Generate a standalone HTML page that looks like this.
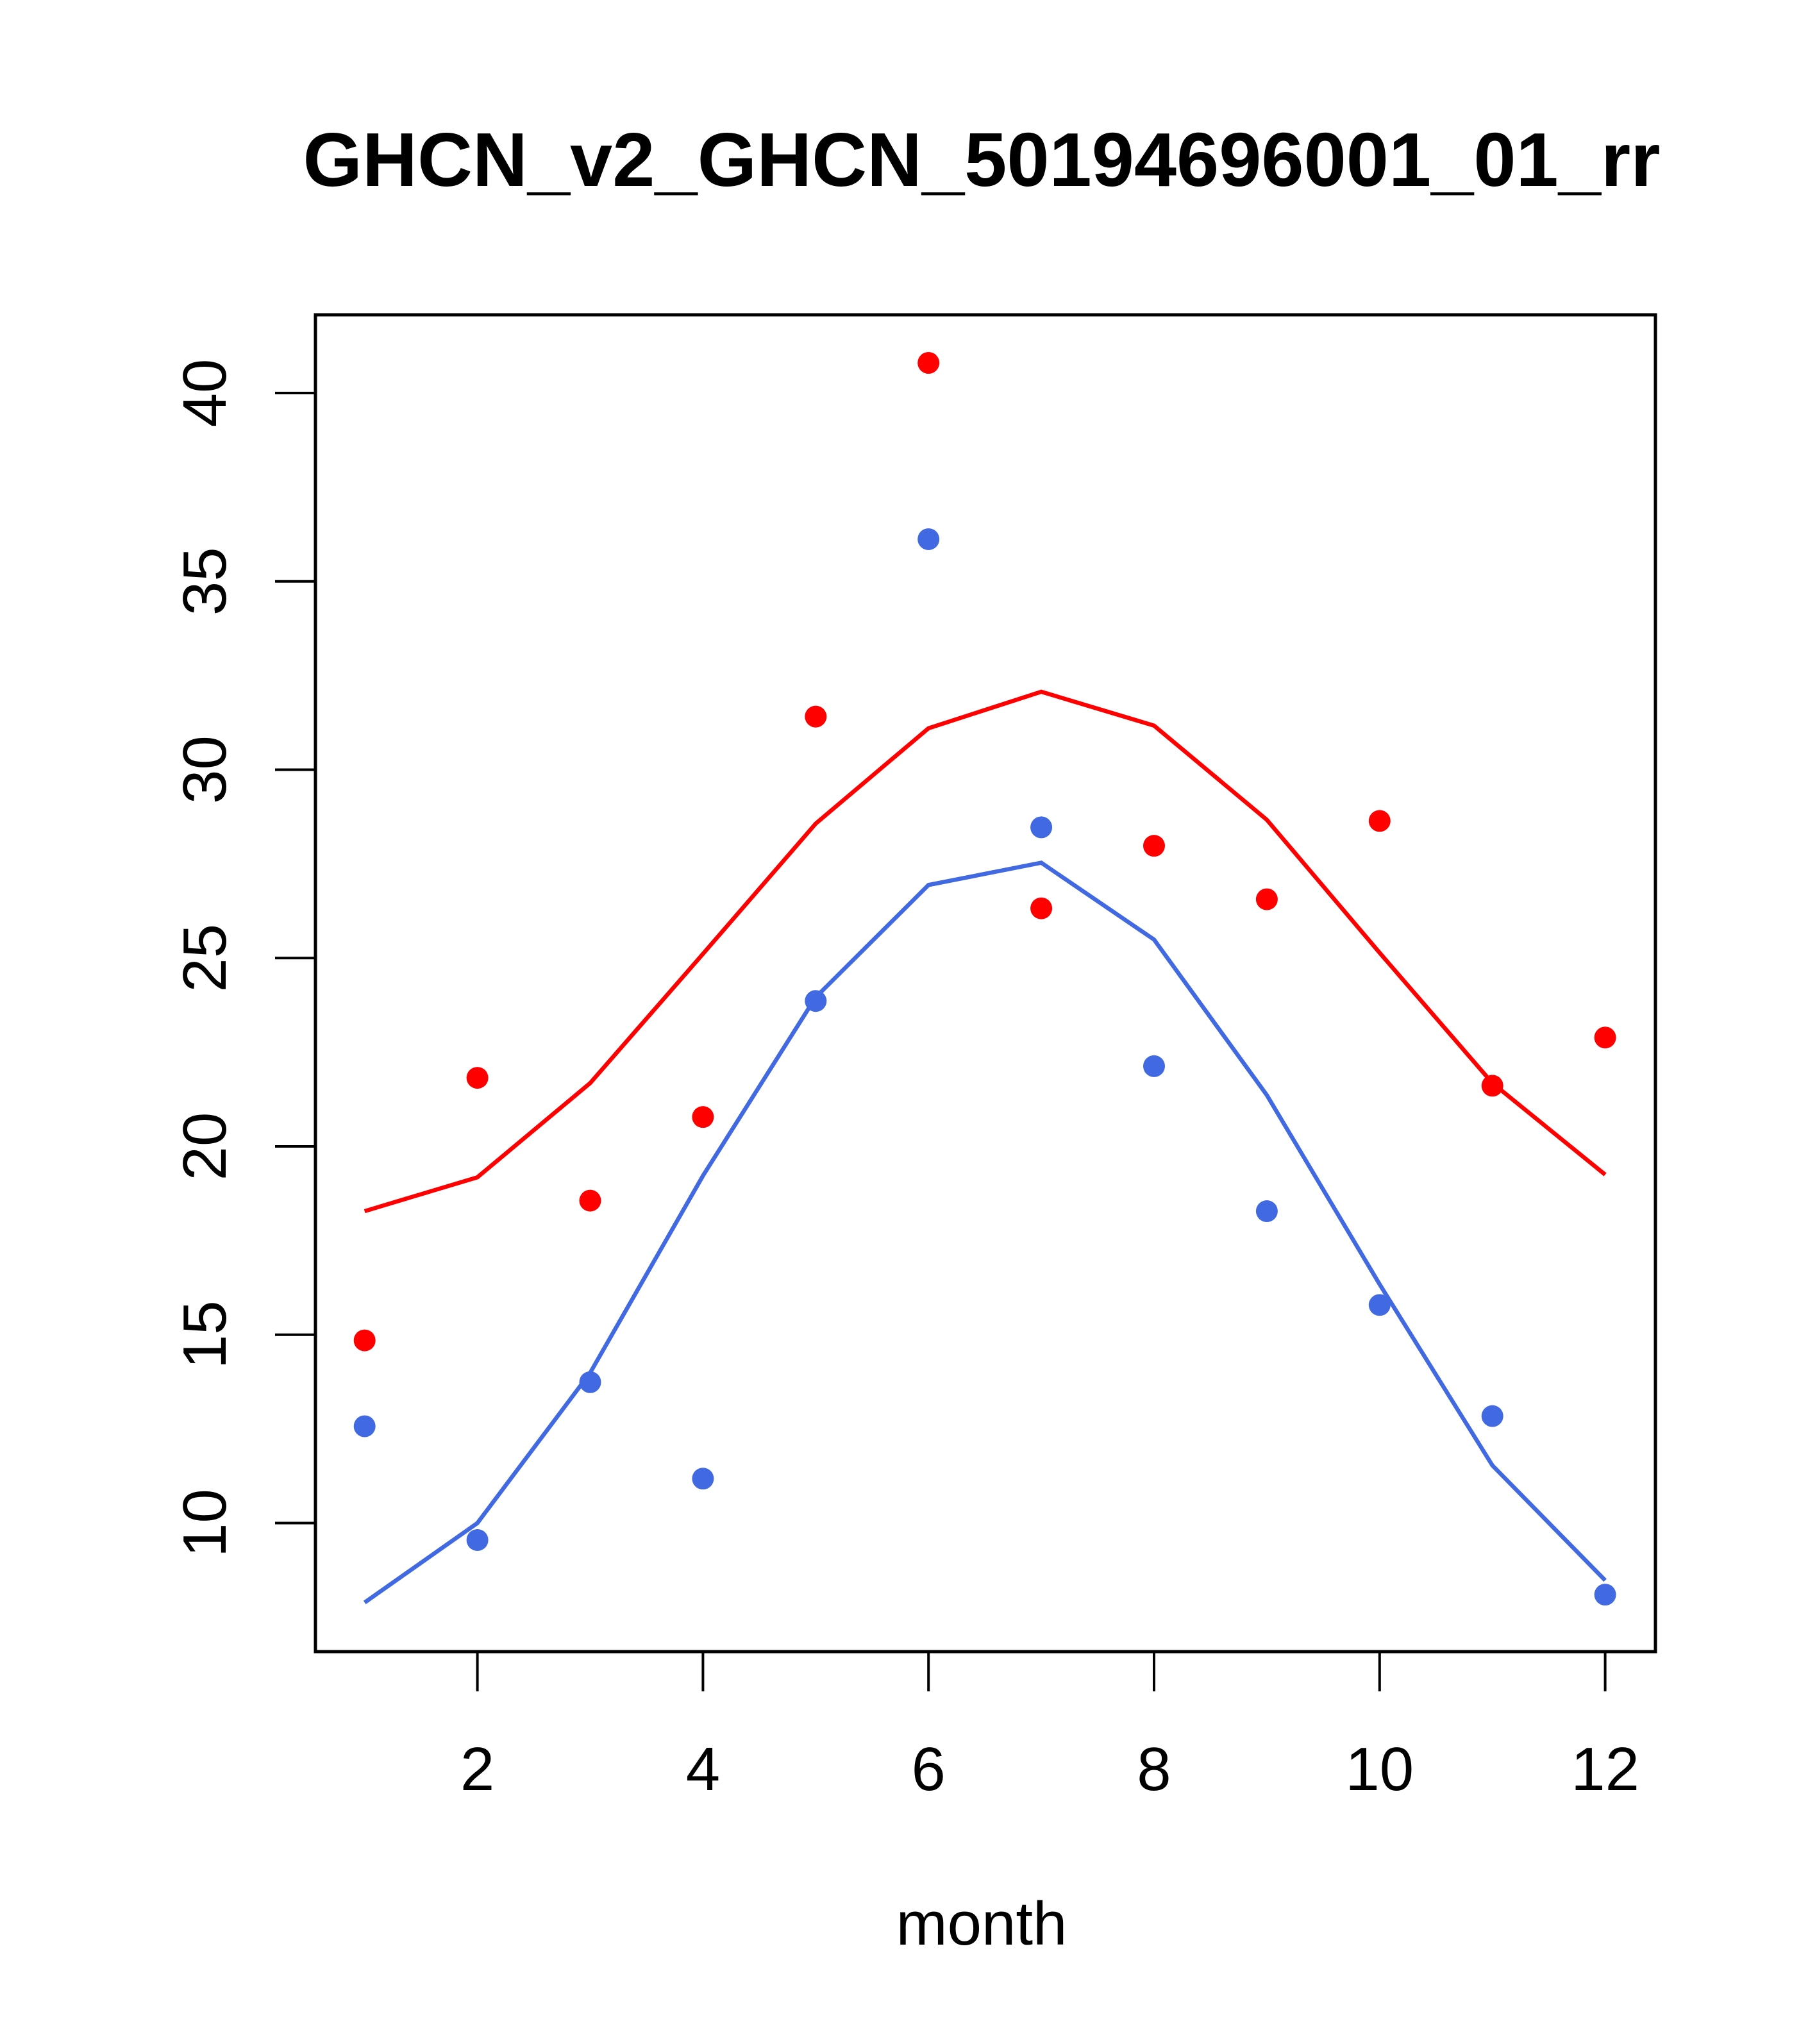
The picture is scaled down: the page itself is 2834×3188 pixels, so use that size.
<!DOCTYPE html>
<html><head><meta charset="utf-8"><style>
html,body{margin:0;padding:0;background:#fff;}
svg{display:block;}
text{font-family:"Liberation Sans",sans-serif;}
</style></head><body>
<svg id="chart" width="2834" height="3188" viewBox="0 0 2834 3188" xmlns="http://www.w3.org/2000/svg">
<rect width="2834" height="3188" fill="#fff"/>
<text x="1531" y="290" font-size="119" font-weight="bold" text-anchor="middle">GHCN_v2_GHCN_50194696001_01_rr</text>
<rect x="492" y="491" width="2090" height="2085" fill="none" stroke="#000" stroke-width="5"/>
<text x="1531" y="3033" font-size="96" text-anchor="middle">month</text>
<g id="axes"></g>
<g id="series"></g>
</svg>
<script>
const months = [1,2,3,4,5,6,7,8,9,10,11,12];
const redPoints = [14.85,21.82,18.56,20.78,31.41,40.80,26.32,27.98,26.56,28.64,21.61,22.89];
const redLine = [18.28,19.18,21.68,25.11,28.57,31.10,32.07,31.17,28.67,25.14,21.68,19.25];
const bluePoints = [12.57,9.55,13.74,11.18,23.86,36.12,28.47,22.13,18.28,15.79,12.84,8.10];
const blueLine = [7.89,10.0,13.99,19.22,23.96,26.94,27.53,25.49,21.36,16.34,11.53,8.48];
const xTicks = [2,4,6,8,10,12];
const yTicks = [10,15,20,25,30,35,40];

const NS = "http://www.w3.org/2000/svg";
function sx(m){ return 568.7 + 175.9*(m-1); }
function sy(v){ return 613 + (40-v)*58.75; }
function mk(tag, attrs, parent){
  const e = document.createElementNS(NS, tag);
  for (const k in attrs) e.setAttribute(k, attrs[k]);
  parent.appendChild(e); return e;
}
const axes = document.getElementById('axes');
const series = document.getElementById('series');

xTicks.forEach(t => {
  const l = mk('line', {x1:sx(t), x2:sx(t), y1:2576, y2:2638, stroke:'#000','stroke-width':4}, axes);
  
  
  const tx = mk('text', {x:sx(t), y:2792, 'font-size':96, 'text-anchor':'middle'}, axes);
  tx.textContent = t;
  
  
});
yTicks.forEach(t => {
  const y = sy(t);
  const l = mk('line', {x1:429, x2:492, y1:y, y2:y, stroke:'#000','stroke-width':4}, axes);
  
  
  const tx = mk('text', {x:352, y:y, 'font-size':96, 'text-anchor':'middle', transform:'rotate(-90 352 '+y+')'}, axes);
  tx.textContent = t;
  
  
});

function drawLine(vals, color, name){
  const pts = months.map((m,i) => sx(m)+','+sy(vals[i])).join(' ');
  const p = mk('polyline', {points:pts, fill:'none', stroke:color, 'stroke-width':6.5}, series);
  
  
}
function drawPoints(vals, color, name){
  months.forEach((m,i) => {
    const c = mk('circle', {cx:sx(m), cy:sy(vals[i]), r:17, fill:color}, series);
    
    
  });
}
drawLine(redLine, '#ff0000', 'red-line');
drawLine(blueLine, '#4169e1', 'blue-line');
drawPoints(redPoints, '#ff0000', 'red-point');
drawPoints(bluePoints, '#4169e1', 'blue-point');
</script>
</body></html>
